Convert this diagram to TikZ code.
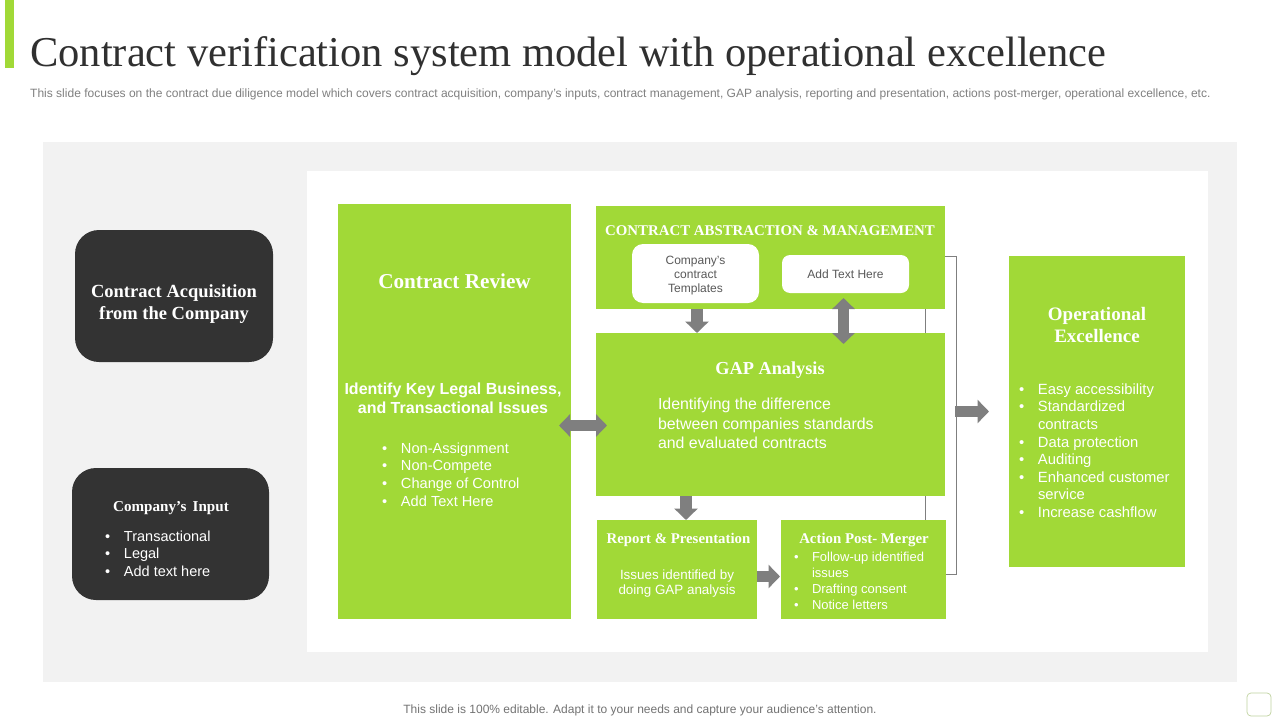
\documentclass[tikz,border=0pt]{standalone}
\usepackage{fontspec}
\setmainfont{Liberation Sans}
\newfontfamily\serifbf[BoldFont=Liberation Serif Bold]{Liberation Serif}
\usetikzlibrary{arrows.meta}
\definecolor{leaf}{HTML}{A1D937}
\definecolor{coal}{HTML}{333333}
\definecolor{panel}{HTML}{F2F2F2}
\definecolor{arrowgray}{HTML}{7F7F7F}
\newcommand\fs[2]{\fontsize{#1}{#2}\selectfont}
\newcommand\bl[2]{\makebox[#1][l]{•}#2}
\newcommand\blc[2]{\makebox[#1][l]{}#2}
% name, x1, y1, x2, y2, style
\newcommand\rnode[6]{%
  \pgfmathsetmacro\rw{#4-#2}\pgfmathsetmacro\rh{#5-#3}%
  \node[#6,anchor=north west,minimum width=\rw pt,minimum height=\rh pt] (#1) at (#2,#3) {};}
\tikzset{
  x=1pt,y=-1pt,
  fillbox/.style={inner sep=0pt,outer sep=0pt,draw=none,rectangle},
  greenbox/.style={fillbox,fill=leaf},
  darkbox/.style={fillbox,fill=coal,rounded corners=24pt},
  whitebox/.style={fillbox,fill=white,rounded corners=9pt},
  label/.style={inner sep=0pt,outer sep=0pt,align=center,text=white},
  serifhead/.style={label,font=\serifbf\bfseries\fs{#1}{22}},
  listtext/.style={label,align=left,anchor=west},
  blockarrow/.style={arrowgray,line width=11.5pt,-{Triangle[length=11.5pt,width=23pt]}},
  blockboth/.style={arrowgray,line width=11.5pt,{Triangle[length=11pt,width=22pt]}-{Triangle[length=11pt,width=22pt]}},
  bracket/.style={arrowgray,line width=0.8pt},
}
\begin{document}
\begin{tikzpicture}
\useasboundingbox (0,0) rectangle (1280,720);
\fill[white] (0,0) rectangle (1280,720);
\rnode{bar}{5}{0}{14}{68}{greenbox}
\node[anchor=base west,inner sep=0pt,text=coal!95!black,font=\serifbf\fs{42.5}{46}] (title) at (30,66) {Contract verification system model with operational excellence};
\node[anchor=base west,inner sep=0pt,text=black!50,font=\fs{12.02}{14}] (sub) at (30,97) {This slide focuses on the contract due diligence model which covers contract acquisition, company’s inputs, contract management, GAP analysis, reporting and presentation, actions post-merger, operational excellence, etc.};
\rnode{outer}{43}{142}{1237}{682}{fillbox,fill=panel}
\rnode{inner}{307}{171}{1208}{652}{fillbox,fill=white}
\rnode{acq}{75}{230}{273}{362}{darkbox}
\rnode{inp}{72}{468}{269}{600}{darkbox}
\rnode{review}{338}{204}{571}{619}{greenbox}
\rnode{abs}{596}{206}{945}{309}{greenbox}
\rnode{gap}{596}{333}{945}{496}{greenbox}
\rnode{report}{597}{520}{757}{619}{greenbox}
\rnode{action}{781}{520}{946}{619}{greenbox}
\rnode{oper}{1009}{256}{1185}{567}{greenbox}
\rnode{tpl}{632}{244}{759}{303}{whitebox,rounded corners=11pt}
\rnode{add}{782}{255}{909}{293}{whitebox,rounded corners=8pt}
\rnode{corner}{1247}{693}{1271}{716}{fillbox,fill=white,draw=leaf!35!panel!90!black,line width=0.7pt,rounded corners=4pt}
% connectors
\coordinate (brA) at (956,256);
\coordinate (brB) at (956,574);
\coordinate (absR) at (945,256);
\coordinate (actR) at (946,574);
\coordinate (linkA) at (925,309);
\coordinate (linkB) at (925,333);
\coordinate (linkC) at (925,496);
\coordinate (linkD) at (925,520);
\draw[bracket] (absR) -- (brA) -- (brB) -- (actR);
\draw[bracket] (linkA) -- (linkB);
\draw[bracket] (linkC) -- (linkD);
\coordinate (a1s) at (697,309); \coordinate (a1e) at (697,333);
\coordinate (a2s) at (843.5,298); \coordinate (a2e) at (843.5,344);
\coordinate (a3s) at (559,425.5); \coordinate (a3e) at (607,425.5);
\coordinate (a4s) at (686,496); \coordinate (a4e) at (686,520);
\coordinate (a5s) at (757,576.5); \coordinate (a5e) at (780,576.5);
\coordinate (a6s) at (955,411.5); \coordinate (a6e) at (989,411.5);
\draw[blockarrow] (a1s) -- (a1e);
\draw[blockboth] (a2s) -- (a2e);
\draw[blockboth] (a3s) -- (a3e);
\draw[blockarrow] (a4s) -- (a4e);
\draw[blockarrow] (a5s) -- (a5e);
\draw[blockarrow] (a6s) -- (a6e);
% dark boxes
\node[label,font=\serifbf\bfseries\fs{18.5}{22}] (acqT) at (174,304.5) {Contract Acquisition\\ from the Company};
\node[serifhead=15.1] (inpT) at (171,508) {Company’s\, Input};
\node[listtext,font=\fs{14.5}{17.6}] (inpL) at (105,553.5) {\bl{19pt}{Transactional}\\\bl{19pt}{Legal}\\\bl{19pt}{Add text here}};
% review
\node[serifhead=21.2] (revT) at (454.5,281.5) {Contract Review};
\node[label,font=\bfseries\fs{16}{19}] (revS) at (453,398.5) {Identify Key Legal Business,\\and Transactional Issues};
\node[listtext,font=\fs{14.6}{17.6}] (revL) at (382,474.5) {\bl{19pt}{Non-Assignment}\\\bl{19pt}{Non-Compete}\\\bl{19pt}{Change of Control}\\\bl{19pt}{Add Text Here}};
% abstraction
\node[serifhead=14.85] (absT) at (770,230.5) {CONTRACT ABSTRACTION \& MANAGEMENT};
\node[label,text=black!65,font=\fs{12}{14}] (tplT) at (695.5,276) {Company’s\\contract\\Templates};
\node[label,text=black!65,font=\fs{12}{14}] (addT) at (845.5,274) {Add Text Here};
% gap
\node[serifhead=18.3] (gapT) at (770,370.5) {GAP Analysis};
\node[listtext,font=\fs{15.9}{19.5}] (gapB) at (658,423.5) {Identifying the difference\\between companies standards\\and evaluated contracts};
% report
\node[serifhead=14.8] (repT) at (678.5,540) {Report \& Presentation};
\node[label,font=\fs{13.4}{15.5}] (repB) at (677,583.5) {Issues identified by\\doing GAP analysis};
% action
\node[serifhead=14.85] (actT) at (864,540) {Action Post- Merger};
\node[listtext,font=\fs{13}{16}] (actL) at (794,581) {\bl{18pt}{Follow-up identified}\\\blc{18pt}{issues}\\\bl{18pt}{Drafting consent}\\\bl{18pt}{Notice letters}};
% operational
\node[serifhead=19] (opT) at (1097,325) {Operational\\Excellence};
\node[listtext,font=\fs{14.8}{17.55}] (opL) at (1019,450.5) {\bl{19pt}{Easy accessibility}\\\bl{19pt}{Standardized}\\\blc{19pt}{contracts}\\\bl{19pt}{Data protection}\\\bl{19pt}{Auditing}\\\bl{19pt}{Enhanced customer}\\\blc{19pt}{service}\\\bl{19pt}{Increase cashflow}};
% footer
\node[inner sep=0pt,text=black!55,font=\fs{12}{14}] (foot) at (640,710) {This slide is 100\% editable. Adapt it to your needs and capture your audience's attention.};
\end{tikzpicture}
\end{document}
